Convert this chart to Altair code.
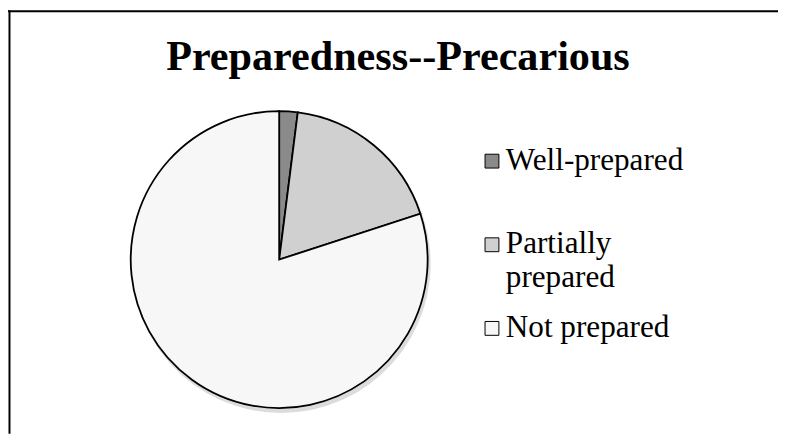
import altair as alt
import pandas as pd

title_text = "Preparedness--Precarious"
categories = ["Well-prepared", "Partially prepared", "Not prepared"]
shares = [2, 18, 80]
legend_labels = ["Well-prepared", "Partially\nprepared", "Not prepared"]

df = pd.DataFrame({"category": categories, "share": shares, "label": legend_labels})

W, H = 778, 428
CX, CY = 274, 252
fills = ["#8a8a8a", "#d0d0d0", "#f7f7f7"]
color = alt.Color("category:N", sort=categories,
                  scale=alt.Scale(domain=categories, range=fills), legend=None)

base = alt.Chart(df).transform_window(idx="row_number()")

shadow = base.mark_arc(outerRadius=151, fill="#9a9a9a", opacity=0.35, strokeWidth=0).encode(
    theta=alt.Theta("share:Q", stack=True),
    order=alt.Order("idx:Q"),
    x=alt.value(CX + 2),
    y=alt.value(CY + 4),
)

pie = base.mark_arc(outerRadius=150, stroke="black", strokeWidth=1.8).encode(
    theta=alt.Theta("share:Q", stack=True),
    order=alt.Order("idx:Q"),
    color=color,
    x=alt.value(CX),
    y=alt.value(CY),
)

ly = alt.Y("category:N", sort=categories,
           scale=alt.Scale(type="point", domain=categories, range=[161, 330], padding=0),
           axis=None)

leg_sym = base.mark_square(size=196, stroke="black", strokeWidth=1, opacity=1, yOffset=-8.5).encode(
    x=alt.value(489), y=ly, color=color)

leg_txt = base.mark_text(align="left", baseline="alphabetic", fontSize=31.5,
                         font="Liberation Serif", lineBreak="\n", lineHeight=34,
                         color="black").encode(
    x=alt.value(503), y=ly, text="label:N")

title = alt.Chart(pd.DataFrame({"t": [title_text]})).mark_text(
    align="center", baseline="alphabetic", fontSize=42.6, fontWeight="bold",
    font="Liberation Serif", color="black").encode(
    x=alt.value(394), y=alt.value(60), text="t:N")

top_line = alt.Chart(pd.DataFrame({"a": [0]})).mark_rule(color="black", strokeWidth=2).encode(
    x=alt.value(0), x2=alt.value(W), y=alt.value(1))
left_line = alt.Chart(pd.DataFrame({"a": [0]})).mark_rule(color="black", strokeWidth=2).encode(
    x=alt.value(1.5), y=alt.value(0), y2=alt.value(H))

chart = alt.layer(top_line, left_line, shadow, pie, leg_sym, leg_txt, title).properties(
    width=W, height=H, padding=0, autosize=alt.AutoSizeParams(type="none")
).configure_view(stroke=None)

chart.save("out.html", embed_options={"renderer": "svg", "actions": False})
